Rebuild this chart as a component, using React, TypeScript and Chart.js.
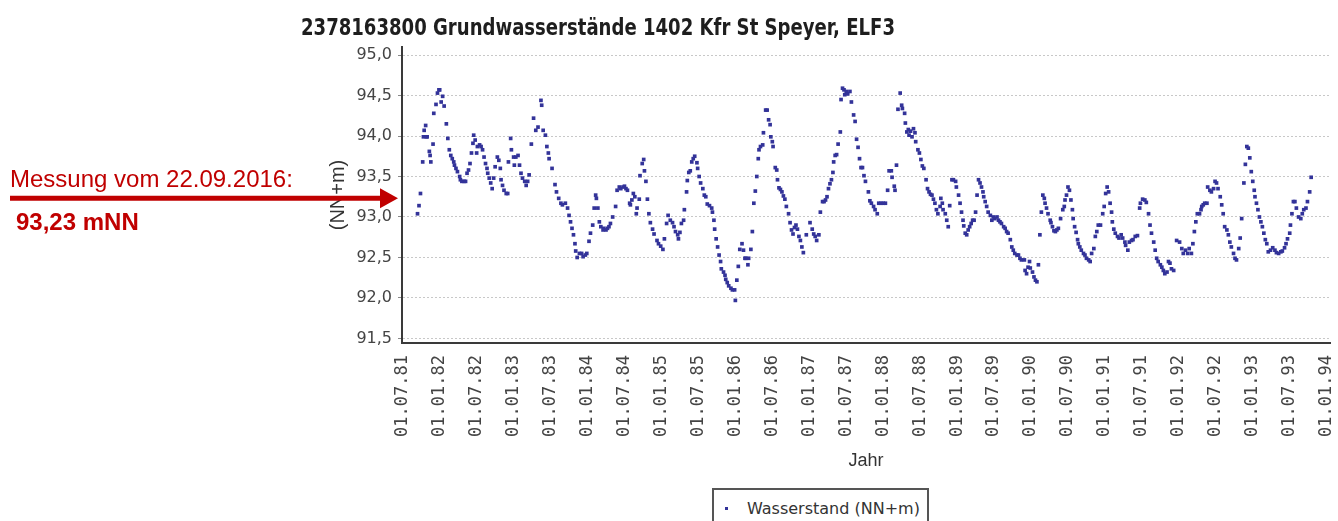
import React, { useEffect, useLayoutEffect, useRef } from "react";
import { Chart, registerables } from "chart.js";

Chart.register(...registerables);

// ---------- data ----------
const TITLE = "2378163800 Grundwasserstände 1402 Kfr St Speyer, ELF3";
const SERIES_LABEL = "Wasserstand (NN+m)";
const X_AXIS_TITLE = "Jahr";
const Y_AXIS_TITLE = "(NN+m)";
const NOTE_TEXT = "Messung vom 22.09.2016:";
const MEASUREMENT_VALUE = 93.23;

// measurement times in decimal years
const MEASURE_TIMES = [
  1981.70, 1981.72, 1981.74, 1981.77, 1981.78, 1981.79, 1981.81, 1981.82, 1981.83, 1981.86,
  1981.87, 1981.88, 1981.91, 1981.92, 1981.95, 1981.97, 1981.99, 1982.00, 1982.02, 1982.04,
  1982.06, 1982.09, 1982.11, 1982.13, 1982.15, 1982.17, 1982.19, 1982.20, 1982.22, 1982.24,
  1982.27, 1982.28, 1982.30, 1982.33, 1982.35, 1982.37, 1982.39, 1982.41, 1982.43, 1982.45,
  1982.46, 1982.48, 1982.50, 1982.51, 1982.54, 1982.56, 1982.58, 1982.60, 1982.62, 1982.64,
  1982.65, 1982.67, 1982.69, 1982.71, 1982.73, 1982.75, 1982.78, 1982.80, 1982.82, 1982.83,
  1982.85, 1982.87, 1982.90, 1982.92, 1982.93, 1982.96, 1982.97, 1983.00, 1983.01, 1983.03,
  1983.06, 1983.08, 1983.10, 1983.12, 1983.15, 1983.17, 1983.19, 1983.21, 1983.24, 1983.27,
  1983.30, 1983.33, 1983.37, 1983.38, 1983.40, 1983.43, 1983.45, 1983.47, 1983.48, 1983.52,
  1983.56, 1983.58, 1983.61, 1983.64, 1983.66, 1983.70, 1983.73, 1983.75, 1983.77, 1983.79,
  1983.81, 1983.83, 1983.84, 1983.86, 1983.89, 1983.92, 1983.94, 1983.97, 1983.99, 1984.02,
  1984.04, 1984.07, 1984.09, 1984.11, 1984.12, 1984.14, 1984.16, 1984.18, 1984.21, 1984.22,
  1984.25, 1984.27, 1984.29, 1984.31, 1984.34, 1984.38, 1984.40, 1984.43, 1984.45, 1984.48,
  1984.50, 1984.52, 1984.54, 1984.57, 1984.58, 1984.60, 1984.62, 1984.64, 1984.66, 1984.67,
  1984.70, 1984.71, 1984.74, 1984.76, 1984.77, 1984.79, 1984.81, 1984.83, 1984.85, 1984.88,
  1984.90, 1984.94, 1984.96, 1984.99, 1985.02, 1985.04, 1985.07, 1985.09, 1985.12, 1985.15,
  1985.17, 1985.19, 1985.22, 1985.23, 1985.25, 1985.27, 1985.30, 1985.31, 1985.34, 1985.35,
  1985.37, 1985.39, 1985.41, 1985.43, 1985.45, 1985.48, 1985.49, 1985.51, 1985.53, 1985.56,
  1985.58, 1985.60, 1985.62, 1985.65, 1985.68, 1985.69, 1985.71, 1985.72, 1985.74, 1985.76,
  1985.78, 1985.80, 1985.81, 1985.84, 1985.86, 1985.87, 1985.89, 1985.91, 1985.94, 1985.96,
  1985.99, 1986.00, 1986.02, 1986.04, 1986.06, 1986.09, 1986.11, 1986.13, 1986.14, 1986.17,
  1986.18, 1986.21, 1986.23, 1986.25, 1986.27, 1986.29, 1986.31, 1986.32, 1986.34, 1986.37,
  1986.38, 1986.41, 1986.43, 1986.45, 1986.47, 1986.48, 1986.50, 1986.51, 1986.54, 1986.56,
  1986.57, 1986.59, 1986.61, 1986.63, 1986.65, 1986.67, 1986.69, 1986.72, 1986.74, 1986.76,
  1986.78, 1986.80, 1986.82, 1986.84, 1986.86, 1986.88, 1986.90, 1986.92, 1986.96, 1987.01,
  1987.04, 1987.06, 1987.08, 1987.10, 1987.13, 1987.15, 1987.18, 1987.20, 1987.22, 1987.24,
  1987.26, 1987.28, 1987.30, 1987.32, 1987.33, 1987.35, 1987.37, 1987.39, 1987.42, 1987.43,
  1987.45, 1987.47, 1987.48, 1987.50, 1987.52, 1987.55, 1987.57, 1987.60, 1987.62, 1987.64,
  1987.66, 1987.68, 1987.70, 1987.72, 1987.74, 1987.76, 1987.80, 1987.82, 1987.84, 1987.87,
  1987.89, 1987.92, 1987.94, 1987.97, 1988.00, 1988.03, 1988.06, 1988.08, 1988.11, 1988.12,
  1988.15, 1988.16, 1988.18, 1988.20, 1988.23, 1988.25, 1988.26, 1988.29, 1988.30, 1988.32,
  1988.34, 1988.35, 1988.37, 1988.39, 1988.41, 1988.43, 1988.44, 1988.47, 1988.49, 1988.51,
  1988.53, 1988.55, 1988.58, 1988.60, 1988.62, 1988.64, 1988.66, 1988.68, 1988.70, 1988.72,
  1988.74, 1988.77, 1988.78, 1988.80, 1988.81, 1988.84, 1988.86, 1988.88, 1988.90, 1988.93,
  1988.95, 1988.98, 1988.99, 1989.02, 1989.04, 1989.06, 1989.08, 1989.09, 1989.11, 1989.13,
  1989.15, 1989.17, 1989.19, 1989.21, 1989.23, 1989.25, 1989.27, 1989.29, 1989.31, 1989.33,
  1989.35, 1989.36, 1989.38, 1989.40, 1989.42, 1989.45, 1989.47, 1989.49, 1989.51, 1989.54,
  1989.56, 1989.58, 1989.60, 1989.63, 1989.65, 1989.67, 1989.69, 1989.72, 1989.74, 1989.76,
  1989.78, 1989.81, 1989.83, 1989.85, 1989.87, 1989.91, 1989.92, 1989.94, 1989.96, 1989.98,
  1989.99, 1990.02, 1990.04, 1990.06, 1990.08, 1990.10, 1990.12, 1990.14, 1990.16, 1990.18,
  1990.19, 1990.21, 1990.23, 1990.26, 1990.27, 1990.29, 1990.31, 1990.33, 1990.35, 1990.37,
  1990.40, 1990.43, 1990.45, 1990.46, 1990.48, 1990.50, 1990.52, 1990.54, 1990.56, 1990.57,
  1990.59, 1990.61, 1990.63, 1990.64, 1990.66, 1990.68, 1990.71, 1990.73, 1990.75, 1990.78,
  1990.80, 1990.82, 1990.85, 1990.87, 1990.89, 1990.91, 1990.94, 1990.97, 1990.99, 1991.01,
  1991.03, 1991.05, 1991.07, 1991.09, 1991.10, 1991.12, 1991.14, 1991.17, 1991.19, 1991.22,
  1991.24, 1991.27, 1991.28, 1991.31, 1991.33, 1991.36, 1991.38, 1991.41, 1991.44, 1991.47,
  1991.48, 1991.51, 1991.54, 1991.56, 1991.59, 1991.61, 1991.63, 1991.66, 1991.68, 1991.70,
  1991.72, 1991.75, 1991.77, 1991.79, 1991.81, 1991.84, 1991.86, 1991.88, 1991.90, 1991.93,
  1991.97, 1992.01, 1992.04, 1992.06, 1992.09, 1992.12, 1992.14, 1992.17, 1992.19, 1992.21,
  1992.23, 1992.25, 1992.28, 1992.30, 1992.31, 1992.33, 1992.35, 1992.38, 1992.39, 1992.42,
  1992.44, 1992.47, 1992.49, 1992.51, 1992.53, 1992.56, 1992.58, 1992.60, 1992.62, 1992.65,
  1992.67, 1992.69, 1992.71, 1992.74, 1992.76, 1992.78, 1992.81, 1992.83, 1992.85, 1992.88,
  1992.90, 1992.92, 1992.94, 1992.96, 1992.98, 1993.00, 1993.02, 1993.03, 1993.05, 1993.07,
  1993.09, 1993.11, 1993.13, 1993.15, 1993.17, 1993.19, 1993.21, 1993.24, 1993.27, 1993.30,
  1993.32, 1993.35, 1993.38, 1993.40, 1993.43, 1993.45, 1993.47, 1993.50, 1993.51, 1993.53,
  1993.55, 1993.57, 1993.59, 1993.62, 1993.65, 1993.67, 1993.69, 1993.72, 1993.74, 1993.77,
  1993.79,
];

// groundwater level (NN+m)
const WATER_LEVELS = [
  93.04, 93.14, 93.29, 93.68, 93.99, 94.07, 94.13, 93.99, 93.99, 93.81,
  93.76, 93.68, 93.90, 94.28, 94.39, 94.53, 94.57, 94.57, 94.42, 94.49,
  94.37, 94.15, 93.97, 93.83, 93.76, 93.72, 93.68, 93.64, 93.60, 93.56,
  93.50, 93.46, 93.44, 93.44, 93.44, 93.54, 93.58, 93.66, 93.79, 93.91,
  94.01, 93.95, 93.79, 93.87, 93.89, 93.87, 93.83, 93.74, 93.66, 93.60,
  93.54, 93.48, 93.42, 93.35, 93.48, 93.62, 93.74, 93.70, 93.60, 93.46,
  93.39, 93.33, 93.29, 93.29, 93.68, 93.97, 93.83, 93.74, 93.64, 93.74,
  93.76, 93.64, 93.54, 93.48, 93.44, 93.39, 93.44, 93.52, 93.90, 94.22,
  94.07, 94.11, 94.44, 94.38, 94.07, 94.01, 93.87, 93.79, 93.72, 93.60,
  93.40, 93.31, 93.23, 93.17, 93.15, 93.17, 93.11, 93.02, 92.94, 92.86,
  92.78, 92.67, 92.58, 92.50, 92.55, 92.55, 92.51, 92.53, 92.55, 92.70,
  92.80, 92.90, 93.11, 93.27, 93.23, 93.11, 92.94, 92.88, 92.84, 92.86,
  92.84, 92.86, 92.88, 92.92, 93.00, 93.13, 93.33, 93.37, 93.35, 93.37,
  93.38, 93.35, 93.33, 93.17, 93.15, 93.21, 93.29, 93.25, 93.04, 93.11,
  93.22, 93.51, 93.66, 93.71, 93.57, 93.44, 93.22, 93.04, 92.93, 92.85,
  92.79, 92.71, 92.67, 92.64, 92.60, 92.73, 92.92, 93.02, 92.96, 92.93,
  92.88, 92.82, 92.78, 92.73, 92.81, 92.92, 92.96, 93.09, 93.31, 93.45,
  93.55, 93.57, 93.68, 93.72, 93.75, 93.67, 93.60, 93.50, 93.42, 93.35,
  93.27, 93.25, 93.16, 93.14, 93.11, 93.06, 92.96, 92.85, 92.73, 92.63,
  92.53, 92.45, 92.36, 92.32, 92.28, 92.23, 92.19, 92.15, 92.12, 92.10,
  92.10, 91.97, 92.22, 92.39, 92.60, 92.67, 92.59, 92.49, 92.49, 92.41,
  92.49, 92.60, 92.82, 93.17, 93.32, 93.50, 93.72, 93.83, 93.87, 93.89,
  94.04, 94.32, 94.32, 94.20, 94.14, 93.99, 93.93, 93.87, 93.61, 93.58,
  93.46, 93.36, 93.34, 93.31, 93.26, 93.22, 93.13, 93.04, 92.93, 92.84,
  92.79, 92.87, 92.90, 92.85, 92.76, 92.71, 92.63, 92.56, 92.78, 92.93,
  92.85, 92.79, 92.76, 92.71, 92.78, 93.06, 93.19, 93.19, 93.21, 93.25,
  93.35, 93.41, 93.46, 93.55, 93.68, 93.76, 93.77, 93.90, 94.05, 94.45,
  94.59, 94.57, 94.51, 94.55, 94.52, 94.55, 94.42, 94.26, 94.18, 93.96,
  93.86, 93.72, 93.61, 93.61, 93.51, 93.44, 93.31, 93.20, 93.17, 93.13,
  93.09, 93.04, 93.17, 93.17, 93.17, 93.17, 93.33, 93.57, 93.57, 93.49,
  93.38, 93.33, 93.64, 94.33, 94.53, 94.38, 94.34, 94.28, 94.16, 94.05,
  94.08, 94.01, 94.06, 93.99, 94.09, 94.04, 93.93, 93.83, 93.79, 93.71,
  93.63, 93.60, 93.46, 93.35, 93.31, 93.28, 93.27, 93.22, 93.17, 93.09,
  93.04, 93.13, 93.23, 93.17, 93.09, 93.04, 92.96, 92.88, 93.14, 93.46,
  93.46, 93.44, 93.37, 93.27, 93.17, 93.06, 92.96, 92.89, 92.80, 92.78,
  92.84, 92.88, 92.92, 92.96, 92.96, 93.06, 93.27, 93.46, 93.42, 93.37,
  93.31, 93.25, 93.19, 93.13, 93.06, 93.02, 92.96, 93.00, 92.98, 93.00,
  92.96, 92.94, 92.92, 92.88, 92.86, 92.82, 92.80, 92.72, 92.63, 92.59,
  92.55, 92.53, 92.53, 92.49, 92.47, 92.47, 92.34, 92.30, 92.38, 92.45,
  92.37, 92.32, 92.26, 92.22, 92.20, 92.41, 92.78, 93.06, 93.27, 93.23,
  93.17, 93.11, 93.04, 92.96, 92.93, 92.88, 92.83, 92.82, 92.84, 92.86,
  92.98, 93.09, 93.13, 93.21, 93.27, 93.37, 93.33, 93.21, 93.09, 92.98,
  92.88, 92.81, 92.72, 92.67, 92.63, 92.59, 92.55, 92.53, 92.49, 92.47,
  92.45, 92.55, 92.61, 92.76, 92.82, 92.90, 92.90, 93.04, 93.13, 93.29,
  93.37, 93.31, 93.17, 93.06, 92.94, 92.85, 92.80, 92.76, 92.74, 92.78,
  92.74, 92.69, 92.65, 92.59, 92.69, 92.71, 92.72, 92.76, 92.77, 93.11,
  93.17, 93.22, 93.21, 93.18, 93.04, 92.90, 92.80, 92.69, 92.59, 92.49,
  92.45, 92.41, 92.38, 92.34, 92.30, 92.32, 92.45, 92.43, 92.36, 92.34,
  92.71, 92.69, 92.61, 92.55, 92.59, 92.55, 92.61, 92.55, 92.67, 92.82,
  92.94, 93.04, 93.04, 93.09, 93.13, 93.15, 93.17, 93.17, 93.37, 93.33,
  93.31, 93.35, 93.44, 93.42, 93.35, 93.25, 93.15, 93.04, 92.88, 92.84,
  92.78, 92.69, 92.63, 92.55, 92.49, 92.47, 92.61, 92.74, 92.98, 93.42,
  93.65, 93.87, 93.85, 93.73, 93.56, 93.44, 93.33, 93.25, 93.17, 93.09,
  93.00, 92.94, 92.88, 92.80, 92.72, 92.67, 92.57, 92.59, 92.62, 92.59,
  92.56, 92.55, 92.57, 92.58, 92.62, 92.67, 92.73, 92.80, 92.90, 93.04,
  93.19, 93.19, 93.11, 93.00, 92.98, 93.04, 93.09, 93.11, 93.19, 93.31,
  93.49,
];

const X_TICK_VALUES = [
  1981.5, 1982.0, 1982.5, 1983.0, 1983.5, 1984.0, 1984.5, 1985.0, 1985.5, 1986.0,
  1986.5, 1987.0, 1987.5, 1988.0, 1988.5, 1989.0, 1989.5, 1990.0, 1990.5, 1991.0,
  1991.5, 1992.0, 1992.5, 1993.0, 1993.5, 1994.0,
];
const X_TICK_LABELS = [
  "01.07.81", "01.01.82", "01.07.82", "01.01.83", "01.07.83", "01.01.84", "01.07.84",
  "01.01.85", "01.07.85", "01.01.86", "01.07.86", "01.01.87", "01.07.87", "01.01.88",
  "01.07.88", "01.01.89", "01.07.89", "01.01.90", "01.07.90", "01.01.91", "01.07.91",
  "01.01.92", "01.07.92", "01.01.93", "01.07.93", "01.01.94",
];
const Y_TICK_VALUES = [91.5, 92.0, 92.5, 93.0, 93.5, 94.0, 94.5, 95.0];
const Y_TICK_LABELS = ["91,5", "92,0", "92,5", "93,0", "93,5", "94,0", "94,5", "95,0"];

// ---------- styles ----------
const POINT_COLOR = "#333399";
const NOTE_RED = "#c00000";
const W = 1338;
const H = 521;

const arrowPlugin = {
  id: "measurementArrow",
  afterDraw(chart: any) {
    const ctx = chart.ctx as CanvasRenderingContext2D;
    const y = chart.scales.y.getPixelForValue(MEASUREMENT_VALUE);
    const tipX = chart.chartArea.left - 4;
    const headLen = 18;
    ctx.save();
    ctx.strokeStyle = NOTE_RED;
    ctx.fillStyle = NOTE_RED;
    ctx.lineWidth = 5;
    ctx.beginPath();
    ctx.moveTo(10, y);
    ctx.lineTo(tipX - headLen + 2, y);
    ctx.stroke();
    ctx.beginPath();
    ctx.moveTo(tipX - headLen, y - 10);
    ctx.lineTo(tipX, y);
    ctx.lineTo(tipX - headLen, y + 10);
    ctx.closePath();
    ctx.fill();
    ctx.restore();
  },
};

export default function App() {
  const canvasRef = useRef<HTMLCanvasElement | null>(null);
  const titleRef = useRef<HTMLDivElement | null>(null);

  useLayoutEffect(() => {
    const el = titleRef.current;
    if (el) {
      const w = el.offsetWidth;
      if (w > 0) el.style.transform = `scaleX(${594 / w})`;
    }
  }, []);

  useEffect(() => {
    if (!canvasRef.current) return;
    const points = MEASURE_TIMES.map((t, i) => ({ x: t, y: WATER_LEVELS[i] }));
    const chart = new Chart(canvasRef.current, {
      type: "scatter",
      data: {
        datasets: [
          {
            label: SERIES_LABEL,
            data: points,
            pointStyle: "rect",
            pointRadius: 2.6,
            pointBorderWidth: 0,
            backgroundColor: POINT_COLOR,
            borderColor: POINT_COLOR,
            showLine: false,
          },
        ],
      },
      options: {
        responsive: false,
        animation: false,
        events: [],
        layout: { autoPadding: false, padding: { left: 322, right: 8, top: 47, bottom: 45 } },
        plugins: {
          legend: { display: false },
          tooltip: { enabled: false },
          title: { display: false },
        },
        scales: {
          x: {
            type: "linear",
            position: "bottom",
            min: 1981.49,
            max: 1994.045,
            afterBuildTicks: (scale: any) => {
              scale.ticks = X_TICK_VALUES.map((v) => ({ value: v }));
            },
            afterFit: (scale: any) => {
              scale.height = 133;
              scale.paddingLeft = 0;
              scale.paddingRight = 0;
            },
            ticks: {
              autoSkip: false,
              minRotation: 90,
              maxRotation: 90,
              padding: 12,
              color: "#444444",
              font: { family: "'DejaVu Sans Mono', monospace", size: 17 },
              callback: (_v: any, i: number) => X_TICK_LABELS[i],
            },
            grid: { display: true, drawOnChartArea: false, drawTicks: false },
            border: { display: true, color: "#3a3a3a", width: 2 },
            title: {
              display: true,
              text: X_AXIS_TITLE,
              color: "#333333",
              font: { family: "'Liberation Sans', Arial, sans-serif", size: 18 },
              padding: { top: 4, bottom: 4 },
            },
          },
          y: {
            type: "linear",
            position: "left",
            min: 91.444,
            max: 95.099,
            afterBuildTicks: (scale: any) => {
              scale.ticks = Y_TICK_VALUES.map((v) => ({ value: v }));
            },
            afterFit: (scale: any) => {
              scale.width = 80;
              scale.paddingTop = 0;
              scale.paddingBottom = 0;
            },
            ticks: {
              padding: 6,
              color: "#444444",
              font: { family: "'DejaVu Sans', sans-serif", size: 16 },
              callback: (_v: any, i: number) => Y_TICK_LABELS[i],
            },
            grid: {
              display: true,
              drawOnChartArea: true,
              drawTicks: true,
              tickLength: 4,
              color: "#c8c8c8",
              lineWidth: 1,
              tickColor: "#888888",
            },
            border: { display: true, color: "#3a3a3a", width: 2, dash: [2, 2] },
            title: {
              display: true,
              text: Y_AXIS_TITLE,
              color: "#333333",
              font: { family: "'Liberation Sans', Arial, sans-serif", size: 20 },
              padding: { top: 4, bottom: 4 },
            },
          },
        },
      },
      plugins: [arrowPlugin],
    } as any);
    return () => chart.destroy();
  }, []);

  const noteValue = `${MEASUREMENT_VALUE.toFixed(2).replace(".", ",")} mNN`;

  return (
    <div
      style={{
        position: "fixed",
        left: 0,
        top: 0,
        width: W,
        height: H,
        overflow: "hidden",
        background: "#ffffff",
      }}
    >
      <canvas
        ref={canvasRef}
        width={W}
        height={H}
        style={{ position: "absolute", left: 0, top: 0, display: "block" }}
      />
      <div
        ref={titleRef}
        style={{
          position: "absolute",
          left: 301,
          top: 15.5,
          whiteSpace: "nowrap",
          fontFamily: "'DejaVu Sans', sans-serif",
          fontWeight: "bold",
          fontSize: 23,
          lineHeight: "23px",
          color: "#1e1e1e",
          transformOrigin: "0 0",
        }}
      >
        {TITLE}
      </div>
      <div
        style={{
          position: "absolute",
          left: 10,
          top: 166.7,
          whiteSpace: "nowrap",
          fontFamily: "'Liberation Sans', Arial, sans-serif",
          fontSize: 24,
          lineHeight: "24px",
          color: NOTE_RED,
        }}
      >
        {NOTE_TEXT}
      </div>
      <div
        style={{
          position: "absolute",
          left: 16,
          top: 209.7,
          whiteSpace: "nowrap",
          fontFamily: "'Liberation Sans', Arial, sans-serif",
          fontWeight: "bold",
          fontSize: 24,
          lineHeight: "24px",
          color: NOTE_RED,
        }}
      >
        {noteValue}
      </div>
      <div
        style={{
          position: "absolute",
          left: 712,
          top: 488,
          width: 217,
          height: 40,
          boxSizing: "border-box",
          border: "2px solid #555555",
          background: "#ffffff",
        }}
      />
      <div
        style={{
          position: "absolute",
          left: 725,
          top: 507,
          width: 3,
          height: 3,
          background: POINT_COLOR,
        }}
      />
      <div
        style={{
          position: "absolute",
          left: 747,
          top: 500.5,
          whiteSpace: "nowrap",
          fontFamily: "'DejaVu Sans', sans-serif",
          fontSize: 16,
          lineHeight: "16px",
          color: "#333333",
        }}
      >
        {SERIES_LABEL}
      </div>
    </div>
  );
}
